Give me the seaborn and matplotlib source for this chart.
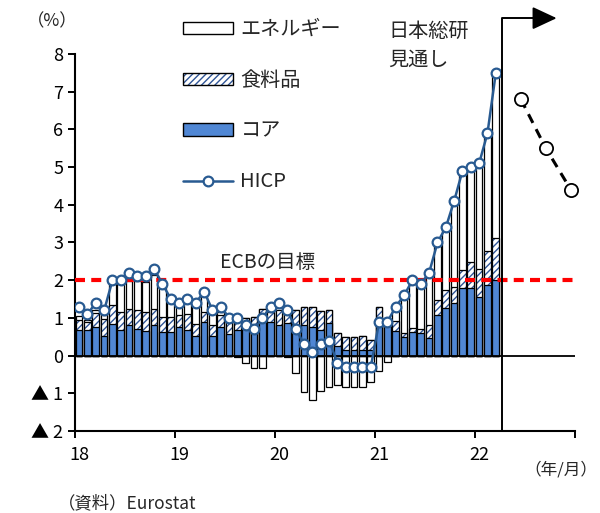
import matplotlib
matplotlib.use("Agg")
import matplotlib.pyplot as plt
import matplotlib.transforms as mtransforms
import numpy as np
import pandas as pd
import seaborn as sns
from matplotlib.patches import Patch
from matplotlib.lines import Line2D
from matplotlib.legend_handler import HandlerTuple

# Euro area HICP, y/y %, and contributions (%pt), Jan 2018 - Mar 2022
year_labels = ["18", "19", "20", "21", "22"]

core = [0.67, 0.68, 0.77, 0.51, 0.84, 0.67, 0.80, 0.71, 0.64, 0.80, 0.62, 0.62,
        0.76, 0.67, 0.52, 0.89, 0.52, 0.76, 0.58, 0.67, 0.71, 0.62, 0.93, 0.89,
        0.80, 0.87, 0.72, 0.80, 0.77, 0.68, 0.86, 0.25, 0.15, 0.15, 0.15, 0.15,
        1.00, 0.78, 0.64, 0.49, 0.62, 0.60, 0.46, 1.07, 1.27, 1.40, 1.78, 1.78,
        1.56, 1.87, 2.00]
food = [0.28, 0.21, 0.35, 0.47, 0.51, 0.49, 0.44, 0.49, 0.52, 0.44, 0.40, 0.40,
        0.31, 0.44, 0.32, 0.27, 0.30, 0.31, 0.31, 0.24, 0.29, 0.40, 0.31, 0.27,
        0.40, 0.40, 0.50, 0.50, 0.51, 0.50, 0.34, 0.35, 0.35, 0.35, 0.37, 0.26,
        0.28, 0.18, 0.27, 0.12, 0.12, 0.11, 0.35, 0.41, 0.46, 0.42, 0.49, 0.71,
        0.75, 0.91, 1.11]
energy = [0.09, 0.06, 0.10, 0.09, 0.56, 0.75, 0.73, 0.77, 0.80, 0.89, 0.86, 0.49,
          0.22, 0.36, 0.49, 0.44, 0.29, 0.09, 0.04, -0.05, -0.20, -0.33, -0.33, 0.05,
          0.12, -0.04, -0.45, -0.97, -1.19, -0.94, -0.84, -0.79, -0.84, -0.84, -0.84, -0.70,
          -0.41, -0.18, 0.39, 1.03, 1.26, 1.20, 1.35, 1.50, 1.64, 2.25, 2.62, 2.49,
          2.80, 3.13, 4.40]
hicp = [1.3, 1.1, 1.4, 1.2, 2.0, 2.0, 2.2, 2.1, 2.1, 2.3, 1.9, 1.5,
        1.4, 1.5, 1.4, 1.7, 1.2, 1.3, 1.0, 1.0, 0.8, 0.7, 1.0, 1.3,
        1.4, 1.2, 0.7, 0.3, 0.1, 0.3, 0.4, -0.2, -0.3, -0.3, -0.3, -0.3,
        0.9, 0.9, 1.3, 1.6, 2.0, 1.9, 2.2, 3.0, 3.4, 4.1, 4.9, 5.0,
        5.1, 5.9, 7.5]

forecast_months = ["2022-06", "2022-09", "2022-12"]
forecast = [6.8, 5.5, 4.4]
ecb_target = 2.0

# month positions: 0 = start of 2018, bars centred in each month
months = pd.date_range("2018-01-01", periods=len(hicp), freq="MS")
pos = (months.year - 2018) * 12 + (months.month - 1) + 0.5
fc_dates = pd.to_datetime(forecast_months)
fc_pos = (fc_dates.year - 2018) * 12 + (fc_dates.month - 1) + 0.5

df = pd.DataFrame({"pos": pos, "core": core, "food": food,
                   "energy": energy, "hicp": hicp})
df["food_top"] = df["core"] + df["food"]
df["total_top"] = df["food_top"] + df["energy"].clip(lower=0)
df["energy_neg"] = df["energy"].clip(upper=0)

BLUE = "#5087D4"
HATCH_BLUE = "#2F5597"
LINE_BLUE = "#285A91"

sns.set_style("ticks")
plt.rcParams["font.family"] = ["Noto Sans CJK JP", "DejaVu Sans"]
plt.rcParams["hatch.linewidth"] = 1.0

fig = plt.figure(figsize=(6.0, 5.13), dpi=100)
ax = fig.add_axes([0.125, 0.1598, 0.8333, 0.735])

bar_kw = dict(native_scale=True, errorbar=None, saturation=1, width=0.8, ax=ax)

# stacked bars built by overlaying cumulative heights
sns.barplot(x=df["pos"], y=df["total_top"], color="white",
            edgecolor="black", linewidth=0.9, **bar_kw)
sns.barplot(x=df["pos"], y=df["energy_neg"], color="white",
            edgecolor="black", linewidth=0.9, **bar_kw)
sns.barplot(x=df["pos"], y=df["food_top"], color="white",
            edgecolor=HATCH_BLUE, linewidth=0, hatch="/////", **bar_kw)
sns.barplot(x=df["pos"], y=df["food_top"], fill=False,
            edgecolor="black", linewidth=0.9, **bar_kw)
sns.barplot(x=df["pos"], y=df["core"], color=BLUE,
            edgecolor="black", linewidth=0.9, **bar_kw)

ax.axhline(0, color="black", lw=1.3, zorder=3)
ax.axhline(ecb_target, color="#FF0000", lw=3, dashes=(2.4, 1.5), zorder=4)

sns.lineplot(x=df["pos"], y=df["hicp"], ax=ax, color=LINE_BLUE, lw=1.8,
             marker="o", markersize=7, markerfacecolor="white",
             markeredgecolor=LINE_BLUE, markeredgewidth=1.6, zorder=6)

sns.lineplot(x=np.asarray(fc_pos, dtype=float), y=forecast, ax=ax,
             color="black", lw=2.2, linestyle=(0, (3.2, 2.3)),
             marker="o", markersize=9.5, markerfacecolor="white",
             markeredgecolor="black", markeredgewidth=1.3, zorder=6,
             clip_on=False)

# forecast boundary with arrow
split_x = 51.2
top_y = 8.95
ax.plot([split_x, split_x, 56.0], [-2, top_y, top_y], color="black",
        lw=1.4, clip_on=False, zorder=7)
ax.annotate("", xy=(57.8, top_y), xytext=(55.5, top_y),
            arrowprops=dict(arrowstyle="-|>,head_length=0.75,head_width=0.35",
                            mutation_scale=20, color="black", lw=1.4,
                            shrinkA=0, shrinkB=0),
            annotation_clip=False, zorder=7)

ax.set_xlim(0, 60)
ax.set_ylim(-2, 8)
ax.set_xticks([0, 12, 24, 36, 48, 60])
ax.set_xticklabels(year_labels + [""])
ax.set_yticks(range(-2, 9))
ax.set_yticklabels(["▲ 2", "▲ 1"] + [str(v) for v in range(0, 9)])
ax.set_xlabel("")
ax.set_ylabel("")
ax.tick_params(axis="both", direction="out", length=5, width=1.4,
               labelsize=13, colors="black")
ax.tick_params(axis="x", pad=6)
sns.despine(ax=ax, top=True, right=True)
for side in ("left", "bottom"):
    ax.spines[side].set_linewidth(1.5)
    ax.spines[side].set_color("black")

# year labels sit just right of their ticks
offset = mtransforms.ScaledTranslation(4 / 100, 0, fig.dpi_scale_trans)
for lab in ax.get_xticklabels():
    lab.set_transform(lab.get_transform() + offset)

# legend
h_energy = Patch(facecolor="white", edgecolor="black", lw=1)
h_food = (Patch(facecolor="white", edgecolor=HATCH_BLUE, lw=0, hatch="/////"),
          Patch(fill=False, edgecolor="black", lw=1))
h_core = Patch(facecolor=BLUE, edgecolor="black", lw=1)
h_hicp = Line2D([], [], color=LINE_BLUE, lw=1.8, marker="o", markersize=7,
                markerfacecolor="white", markeredgecolor=LINE_BLUE,
                markeredgewidth=1.6)
fig.legend([h_energy, h_food, h_core, h_hicp],
           ["エネルギー", "食料品", "コア", "HICP"],
           handler_map={tuple: HandlerTuple(ndivide=1)},
           loc="upper left", bbox_to_anchor=(183 / 600, 1 - 19 / 513),
           frameon=False, fontsize=14.5, handlelength=2.5, handleheight=0.55,
           handletextpad=0.35, labelspacing=1.48, borderpad=0,
           borderaxespad=0, numpoints=1)

def ftext(x, y, s, **kw):
    fig.text(x / 600, 1 - y / 513, s, **kw)

ftext(52, 21, "（%）", ha="center", va="center", fontsize=12.5)
ftext(388, 31, "日本総研", ha="left", va="center", fontsize=14.5)
ftext(388, 60, "見通し", ha="left", va="center", fontsize=14.5)
ftext(268, 262, "ECBの目標", ha="center", va="center", fontsize=14)
ftext(597, 470, "（年/月）", ha="right", va="center", fontsize=12)
ftext(58, 503, "（資料）Eurostat", ha="left", va="center", fontsize=12.5)

fig.savefig("out.png", dpi=100)
